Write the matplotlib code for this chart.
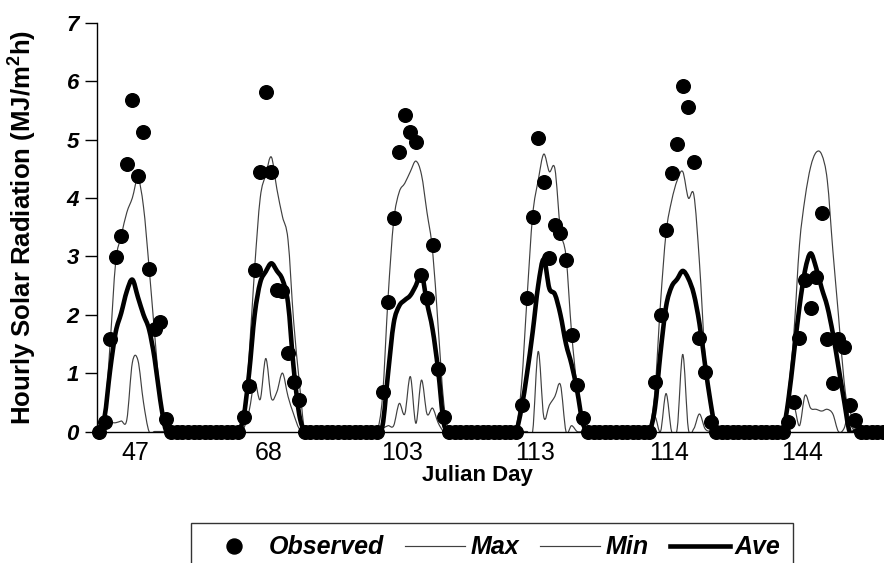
import matplotlib
matplotlib.use("Agg")
import matplotlib.pyplot as plt
import numpy as np
from matplotlib.lines import Line2D
from matplotlib.path import Path
from matplotlib.patches import PathPatch

plt.rcParams['font.family'] = ['Liberation Sans', 'DejaVu Sans']
plt.rcParams['mathtext.fontset'] = 'custom'
plt.rcParams['mathtext.rm'] = 'Liberation Sans:bold'
plt.rcParams['mathtext.bf'] = 'Liberation Sans:bold'

# ---- data (hourly, 24 values per day) ----
days = [47, 68, 103, 113, 114, 144]
hours_per_day = 24

observed = [
    0, 0.17, 1.59, 2.99, 3.35, 4.58, 5.67, 4.37, 5.13, 2.79, 1.76, 1.88, 0.21, 0, 0, 0, 0, 0, 0, 0, 0, 0, 0, 0,
    0, 0, 0.25, 0.78, 2.77, 4.44, 5.82, 4.44, 2.42, 2.40, 1.34, 0.85, 0.54, 0, 0, 0, 0, 0, 0, 0, 0, 0, 0, 0,
    0, 0, 0, 0.68, 2.22, 3.65, 4.79, 5.42, 5.13, 4.96, 2.68, 2.28, 3.19, 1.07, 0.25, 0, 0, 0, 0, 0, 0, 0, 0, 0,
    0, 0, 0, 0, 0.45, 2.28, 3.68, 5.02, 4.28, 2.97, 3.54, 3.40, 2.94, 1.65, 0.80, 0.23, 0, 0, 0, 0, 0, 0, 0, 0,
    0, 0, 0, 0, 0.85, 2.00, 3.45, 4.42, 4.93, 5.92, 5.55, 4.62, 1.60, 1.02, 0.17, 0, 0, 0, 0, 0, 0, 0, 0, 0,
    0, 0, 0, 0, 0.17, 0.51, 1.60, 2.60, 2.11, 2.65, 3.74, 1.58, 0.83, 1.58, 1.45, 0.45, 0.20, 0, 0, 0, 0, 0, 0, 0,
]

max_rad = [
    0, 0.25, 1.5, 2.9, 3.35, 3.75, 4.0, 4.33, 3.85, 2.82, 1.68, 0.6, 0.08, 0, 0, 0, 0, 0, 0, 0, 0, 0, 0, 0,
    0, 0, 0.05, 1.3, 2.8, 4.0, 4.4, 4.7, 4.15, 3.68, 3.28, 1.9, 0.88, 0, 0, 0, 0, 0, 0, 0, 0, 0, 0, 0,
    0, 0, 0, 0.6, 2.3, 3.6, 4.1, 4.25, 4.45, 4.63, 4.4, 3.75, 3.1, 1.8, 0.5, 0, 0, 0, 0, 0, 0, 0, 0, 0,
    0, 0, 0, 0.05, 0.8, 2.3, 3.7, 4.3, 4.75, 4.45, 4.5, 3.45, 3.0, 1.7, 0.75, 0.15, 0, 0, 0, 0, 0, 0, 0, 0,
    0, 0, 0, 0.05, 0.7, 2.2, 3.4, 3.95, 4.3, 4.45, 4.0, 4.05, 2.9, 1.3, 0.4, 0, 0, 0, 0, 0, 0, 0, 0, 0,
    0, 0, 0, 0.05, 0.7, 1.7, 3.2, 4.0, 4.53, 4.78, 4.74, 4.3, 3.1, 2.0, 0.88, 0.2, 0, 0, 0, 0, 0, 0, 0, 0,
]

min_rad = [
    0, 0.1, 0.15, 0.15, 0.18, 0.2, 1.18, 1.22, 0.5, 0, 0, 0, 0, 0, 0, 0, 0, 0, 0, 0, 0, 0, 0, 0,
    0, 0, 0.05, 0.35, 0.85, 0.55, 1.25, 0.57, 0.68, 1.0, 0.6, 0.3, 0.05, 0, 0, 0, 0, 0, 0, 0, 0, 0, 0, 0,
    0, 0, 0, 0.05, 0.1, 0.1, 0.48, 0.3, 0.94, 0.14, 0.88, 0.3, 0.4, 0.15, 0, 0, 0, 0, 0, 0, 0, 0, 0, 0,
    0, 0, 0, 0, 0, 0, 0, 1.37, 0.25, 0.45, 0.6, 0.8, 0, 0.1, 0, 0, 0, 0, 0, 0, 0, 0, 0, 0,
    0, 0, 0, 0, 0.25, 0, 0.65, 0, 0.05, 1.32, 0.05, 0.05, 0.3, 0.05, 0, 0, 0, 0, 0, 0, 0, 0, 0, 0,
    0, 0, 0, 0.05, 0.4, 0.45, 0.1, 0.62, 0.4, 0.38, 0.35, 0.38, 0.3, 0, 0.05, 0.35, 0, 0, 0, 0, 0, 0, 0, 0,
]

ave_rad = [
    0, 0.25, 1.05, 1.7, 2.03, 2.4, 2.6, 2.3, 2.0, 1.75, 1.25, 0.55, 0.03, 0, 0, 0, 0, 0, 0, 0, 0, 0, 0, 0,
    0, 0, 0.25, 1.0, 2.0, 2.55, 2.74, 2.88, 2.75, 2.6, 2.2, 1.1, 0.3, 0, 0, 0, 0, 0, 0, 0, 0, 0, 0, 0,
    0, 0, 0, 0.1, 1.0, 1.85, 2.15, 2.25, 2.33, 2.5, 2.7, 2.2, 1.75, 1.05, 0.15, 0, 0, 0, 0, 0, 0, 0, 0, 0,
    0, 0, 0, 0, 0.4, 1.0, 1.7, 2.5, 2.95, 2.45, 2.35, 2.0, 1.5, 1.15, 0.7, 0.15, 0, 0, 0, 0, 0, 0, 0, 0,
    0, 0, 0, 0, 0.4, 1.35, 2.14, 2.48, 2.61, 2.75, 2.62, 2.35, 1.85, 1.15, 0.5, 0, 0, 0, 0, 0, 0, 0, 0, 0,
    0, 0, 0, 0, 0.54, 1.34, 2.14, 2.76, 3.05, 2.8, 2.45, 2.14, 1.68, 1.11, 0.54, 0, 0, 0, 0, 0, 0, 0, 0, 0,
]

y_ticks = [0, 1, 2, 3, 4, 5, 6, 7]

n = len(days) * hours_per_day
assert len(observed) == n and len(max_rad) == n and len(min_rad) == n and len(ave_rad) == n
hours = np.arange(n)


def smooth_path(x, y):
    """Smoothed (Catmull-Rom / Bezier) path through the data points, like a spreadsheet 'smoothed line'."""
    pts = np.column_stack([x, y]).astype(float)
    verts = [pts[0]]
    codes = [Path.MOVETO]
    m = len(pts)
    for i in range(m - 1):
        p0 = pts[i - 1] if i > 0 else pts[i]
        p1 = pts[i]
        p2 = pts[i + 1]
        p3 = pts[i + 2] if i + 2 < m else pts[i + 1]
        c1 = p1 + (p2 - p0) / 6.0
        c2 = p2 - (p3 - p1) / 6.0
        verts += [c1, c2, p2]
        codes += [Path.CURVE4] * 3
    return Path(np.array(verts), codes)


# ---- figure ----
W, H = 884, 563
fig = plt.figure(figsize=(W / 100, H / 100), dpi=100)
ax = fig.add_axes([97 / W, 131.5 / H, 787 / W, 408.8 / H])

thin = '#404040'
thin_lw = 0.85
ave_lw = 3.3
for series, col, lw, z in [(max_rad, thin, thin_lw, 2), (min_rad, thin, thin_lw, 2), (ave_rad, 'black', ave_lw, 3)]:
    ax.add_patch(PathPatch(smooth_path(hours, series), fill=False, edgecolor=col,
                           lw=lw, zorder=z, joinstyle='round', capstyle='round'))
ax.plot(hours, observed, 'o', color='black', ms=9.8, zorder=4, clip_on=False)

ax.set_xlim(-0.36, 141.2)
ax.set_ylim(0, 7)

for s in ['top', 'right']:
    ax.spines[s].set_visible(False)
ax.spines['left'].set_linewidth(1.0)
ax.spines['bottom'].set_linewidth(1.0)

ax.set_yticks(y_ticks)
ax.set_yticklabels([str(v) for v in y_ticks], fontsize=16, fontweight='bold', fontstyle='italic')
ax.tick_params(axis='y', direction='out', length=9, width=1, pad=4)

tick_pos = np.arange(len(days)) * hours_per_day + 6.5
ax.set_xticks(tick_pos)
ax.set_xticklabels([str(d) for d in days], fontsize=18)
ax.tick_params(axis='x', length=0, pad=7)

ax.set_xlabel('Julian Day', fontsize=16, fontweight='bold')
ax.xaxis.set_label_coords(0.484, -0.082)
ax.set_ylabel('Hourly Solar Radiation (MJ/m$^{2}$h)', fontsize=18.5, fontweight='bold')
ax.yaxis.set_label_coords(-0.075, 0.5)

handles = [
    Line2D([], [], marker='o', ls='none', color='black', ms=10.8),
    Line2D([], [], color=thin, lw=thin_lw),
    Line2D([], [], color=thin, lw=thin_lw),
    Line2D([], [], color='black', lw=ave_lw),
]
leg = fig.legend(handles, ['Observed', 'Max', 'Min', 'Ave'], ncol=4,
                 loc='upper center', bbox_to_anchor=(492 / W, 40 / H),
                 prop={'size': 18, 'weight': 'bold', 'style': 'italic'},
                 frameon=True, fancybox=False, edgecolor='black',
                 handlelength=2.4, handletextpad=0.2, columnspacing=0.85,
                 borderpad=0.5, borderaxespad=0)
leg.get_frame().set_linewidth(1.0)

fig.savefig('out.png', dpi=100)
